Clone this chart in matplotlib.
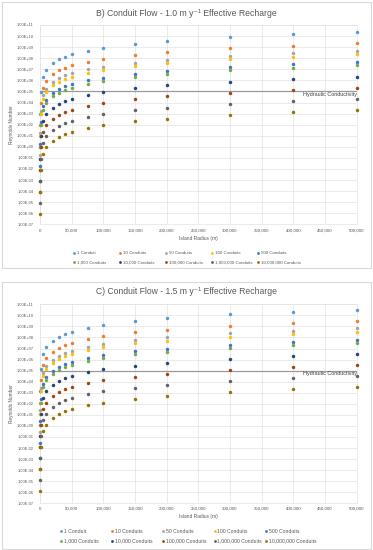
import matplotlib
matplotlib.use('Agg')
import matplotlib.pyplot as plt
from matplotlib.lines import Line2D
from matplotlib.patches import Rectangle

plt.rcParams['font.family'] = ['Liberation Sans', 'DejaVu Sans']

# island radius (m) of each column of points
radius = [10, 100, 1000, 5000, 10000, 20000, 30000, 40000, 50000, 75000,
          100000, 150000, 200000, 300000, 400000, 500000]

labels = ['1 Conduit', '10 Conduits', '50 Conduits', '100 Conduits', '500 Conduits',
          '1,000 Conduits', '10,000 Conduits', '100,000 Conduits',
          '1,000,000 Conduits', '10,000,000 Conduits']
colors = ['#5B9BD5', '#ED7D31', '#A5A5A5', '#FFC000', '#4472C4',
          '#70AD47', '#264478', '#9E480E', '#636363', '#997300']

# hydraulic conductivity reference line
hc_radius = [0, 500000]
hc_value = [1e5, 1e5]

# B) 1.0 m/y recharge - Reynolds number
b_1 = [8.7, 8.7e2, 8.7e4, 2.2e6, 8.7e6, 3.5e7, 7.8e7, 1.4e8, 2.2e8, 4.9e8, 8.7e8, 2.0e9, 3.5e9, 7.8e9, 1.4e10, 2.2e10]
b_10 = [8.7e-1, 8.7e1, 8.7e3, 2.2e5, 8.7e5, 3.5e6, 7.8e6, 1.4e7, 2.2e7, 4.9e7, 8.7e7, 2.0e8, 3.5e8, 7.8e8, 1.4e9, 2.2e9]
b_50 = [1.7e-1, 1.7e1, 1.7e3, 4.4e4, 1.7e5, 7.0e5, 1.6e6, 2.8e6, 4.4e6, 9.8e6, 1.7e7, 3.9e7, 7.0e7, 1.6e8, 2.8e8, 4.4e8]
b_100 = [8.7e-2, 8.7, 8.7e2, 2.2e4, 8.7e4, 3.5e5, 7.8e5, 1.4e6, 2.2e6, 4.9e6, 8.7e6, 2.0e7, 3.5e7, 7.8e7, 1.4e8, 2.2e8]
b_500 = [1.7e-2, 1.7, 1.7e2, 4.4e3, 1.7e4, 7.0e4, 1.6e5, 2.8e5, 4.4e5, 9.8e5, 1.7e6, 3.9e6, 7.0e6, 1.6e7, 2.8e7, 4.4e7]
b_1k = [8.7e-3, 8.7e-1, 8.7e1, 2.2e3, 8.7e3, 3.5e4, 7.8e4, 1.4e5, 2.2e5, 4.9e5, 8.7e5, 2.0e6, 3.5e6, 7.8e6, 1.4e7, 2.2e7]
b_10k = [8.7e-4, 8.7e-2, 8.7, 2.2e2, 8.7e2, 3.5e3, 7.8e3, 1.4e4, 2.2e4, 4.9e4, 8.7e4, 2.0e5, 3.5e5, 7.8e5, 1.4e6, 2.2e6]
b_100k = [8.7e-5, 8.7e-3, 8.7e-1, 2.2e1, 8.7e1, 3.5e2, 7.8e2, 1.4e3, 2.2e3, 4.9e3, 8.7e3, 2.0e4, 3.5e4, 7.8e4, 1.4e5, 2.2e5]
b_1m = [8.7e-6, 8.7e-4, 8.7e-2, 2.2, 8.7, 3.5e1, 7.8e1, 1.4e2, 2.2e2, 4.9e2, 8.7e2, 2.0e3, 3.5e3, 7.8e3, 1.4e4, 2.2e4]
b_10m = [8.7e-7, 8.7e-5, 8.7e-3, 2.2e-1, 8.7e-1, 3.5, 7.8, 1.4e1, 2.2e1, 4.9e1, 8.7e1, 2.0e2, 3.5e2, 7.8e2, 1.4e3, 2.2e3]

# C) 1.5 m/y recharge
c_1 = [1.3e1, 1.3e3, 1.3e5, 3.3e6, 1.3e7, 5.2e7, 1.2e8, 2.1e8, 3.3e8, 7.3e8, 1.3e9, 2.9e9, 5.2e9, 1.2e10, 2.1e10, 3.3e10]
c_10 = [1.3, 1.3e2, 1.3e4, 3.3e5, 1.3e6, 5.2e6, 1.2e7, 2.1e7, 3.3e7, 7.3e7, 1.3e8, 2.9e8, 5.2e8, 1.2e9, 2.1e9, 3.3e9]
c_50 = [2.6e-1, 2.6e1, 2.6e3, 6.5e4, 2.6e5, 1.0e6, 2.3e6, 4.2e6, 6.5e6, 1.5e7, 2.6e7, 5.9e7, 1.0e8, 2.3e8, 4.2e8, 6.5e8]
c_100 = [1.3e-1, 1.3e1, 1.3e3, 3.3e4, 1.3e5, 5.2e5, 1.2e6, 2.1e6, 3.3e6, 7.3e6, 1.3e7, 2.9e7, 5.2e7, 1.2e8, 2.1e8, 3.3e8]
c_500 = [2.6e-2, 2.6, 2.6e2, 6.5e3, 2.6e4, 1.0e5, 2.3e5, 4.2e5, 6.5e5, 1.5e6, 2.6e6, 5.9e6, 1.0e7, 2.3e7, 4.2e7, 6.5e7]
c_1k = [1.3e-2, 1.3, 1.3e2, 3.3e3, 1.3e4, 5.2e4, 1.2e5, 2.1e5, 3.3e5, 7.3e5, 1.3e6, 2.9e6, 5.2e6, 1.2e7, 2.1e7, 3.3e7]
c_10k = [1.3e-3, 1.3e-1, 1.3e1, 3.3e2, 1.3e3, 5.2e3, 1.2e4, 2.1e4, 3.3e4, 7.3e4, 1.3e5, 2.9e5, 5.2e5, 1.2e6, 2.1e6, 3.3e6]
c_100k = [1.3e-4, 1.3e-2, 1.3, 3.3e1, 1.3e2, 5.2e2, 1.2e3, 2.1e3, 3.3e3, 7.3e3, 1.3e4, 2.9e4, 5.2e4, 1.2e5, 2.1e5, 3.3e5]
c_1m = [1.3e-5, 1.3e-3, 1.3e-1, 3.3, 1.3e1, 5.2e1, 1.2e2, 2.1e2, 3.3e2, 7.3e2, 1.3e3, 2.9e3, 5.2e3, 1.2e4, 2.1e4, 3.3e4]
c_10m = [1.3e-6, 1.3e-4, 1.3e-2, 3.3e-1, 1.3, 5.2, 1.2e1, 2.1e1, 3.3e1, 7.3e1, 1.3e2, 2.9e2, 5.2e2, 1.2e3, 2.1e3, 3.3e3]

b_series = [b_1, b_10, b_50, b_100, b_500, b_1k, b_10k, b_100k, b_1m, b_10m]
c_series = [c_1, c_10, c_50, c_100, c_500, c_1k, c_10k, c_100k, c_1m, c_10m]

xticks = list(range(0, 500001, 50000))
yticks = [10.0 ** k for k in range(-7, 12)]

W, H = 373, 550
fig = plt.figure(figsize=(W / 100, H / 100), dpi=100)
PT = 0.72  # points per pixel


def fx(px):
    return px / W


def fy(py):
    return 1 - py / H


def panel(series, title, box, top, bottom, title_y, tick_y, xlab_y,
          leg_y, leg_x, leg_fs):
    left, right = 40, 356.7
    # chart border
    fig.add_artist(Rectangle((fx(2), fy(box[1])), fx(368.5), (box[1] - box[0]) / H,
                             transform=fig.transFigure, fill=False,
                             edgecolor='#D9D9D9', lw=0.8))
    ax = fig.add_axes([fx(left), fy(bottom), fx(right - left), (bottom - top) / H])
    ax.set_yscale('log')
    ax.set_xlim(0, 500000)
    ax.set_ylim(1e-7, 1e11)
    ax.set_xticks(xticks)
    ax.set_xticklabels([f'{t:,}' for t in xticks])
    ax.set_yticks(yticks)
    ax.set_yticklabels([f'{t:.2E}' for t in yticks])
    ax.minorticks_off()
    ax.tick_params(axis='y', length=0, pad=6 * PT, labelsize=2.9, labelcolor='#595959')
    ax.tick_params(axis='x', length=0, pad=(tick_y - bottom - 2) * PT, labelsize=3.2,
                   labelcolor='#595959')
    ax.grid(True, color='#E3E3E3', lw=0.5)
    ax.set_axisbelow(True)
    for s in ax.spines.values():
        s.set_color('#E3E3E3')
        s.set_linewidth(0.5)

    ax.plot(hc_radius, hc_value, color='#9A9A9A', lw=0.9, zorder=2)
    ax.annotate('Hydraulic Conductivity', xy=(500000, 1e5), xytext=(0, -2.7 * PT),
                textcoords='offset points', ha='right', va='center',
                fontsize=3.9, color='#404040', zorder=4)
    for vals, col in zip(series, colors):
        ax.plot(radius, vals, ls='none', marker='o', ms=2.5, mew=0,
                color=col, clip_on=False, zorder=3)

    fig.text(0.5, fy(title_y), title, ha='center', va='center',
             fontsize=6.2, color='#595959')
    fig.text(fx(11.7), fy((top + bottom) / 2), 'Reynolds Number', rotation=90,
             ha='center', va='center', fontsize=3.4, color='#595959')
    fig.text(fx((left + right) / 2), fy(xlab_y), 'Island Radius (m)',
             ha='center', va='center', fontsize=3.5, color='#595959')

    # legend laid out in two rows of five like the original
    for i, (lab, col) in enumerate(zip(labels, colors)):
        r, c = divmod(i, 5)
        x, y = leg_x[c], leg_y[r]
        fig.add_artist(Line2D([fx(x)], [fy(y)], transform=fig.transFigure,
                              marker='o', ms=2.0, mew=0, color=col, ls='none'))
        fig.text(fx(x + 2.6), fy(y), lab, ha='left', va='center',
                 fontsize=leg_fs, color='#595959')
    return ax


panel(b_series, 'B) Conduit Flow - 1.0 m y\u207b\u00b9 Effective Recharge',
      (2, 268), 25, 224.3, 13.3, 230.7, 238.7,
      [253.3, 262.3], [74, 120, 166, 212.3, 258], 3.2)
panel(c_series, 'C) Conduit Flow - 1.5 m y\u207b\u00b9 Effective Recharge',
      (281.5, 549), 304.3, 503.3, 291.7, 508.7, 516.7,
      [531.3, 541], [61, 112, 163, 214.7, 266], 3.7)

fig.savefig('out.png', dpi=100)
